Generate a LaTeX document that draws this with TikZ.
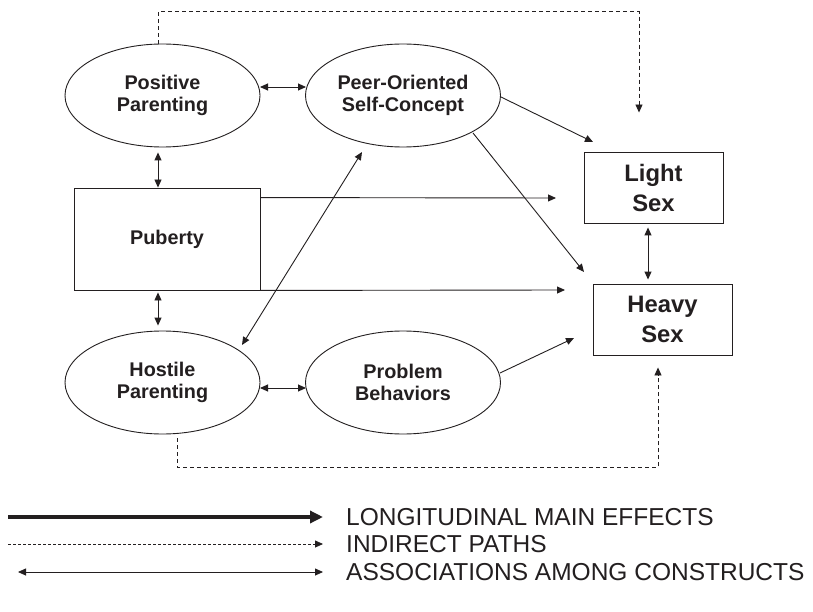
\documentclass[tikz,border=0pt]{standalone}
\usepackage{fontspec}
\setmainfont{Liberation Sans}
\usetikzlibrary{shapes.geometric,arrows.meta,calc}
\definecolor{ink}{HTML}{231F20}
\begin{document}
\begin{tikzpicture}[x=1pt,y=-1pt,
  every node/.style={text=ink},
  ell/.style={draw=ink, line width=0.9pt, ellipse, minimum width=195pt, minimum height=103pt, inner sep=0pt, align=center, font=\fontsize{19.8}{21.6}\selectfont\bfseries},
  pbox/.style={draw=ink, line width=0.9pt, rectangle, minimum width=186pt, minimum height=102pt, inner sep=0pt, align=center, font=\fontsize{19.8}{21.6}\selectfont\bfseries},
  sbox/.style={draw=ink, line width=0.9pt, rectangle, minimum width=139pt, minimum height=71pt, inner sep=0pt, align=center, font=\fontsize{23.8}{30}\selectfont\bfseries},
  tip/.style={-{Triangle[length=8pt,width=7pt]}},
  effect/.style={draw=ink, line width=0.9pt, tip},
  assoc/.style={draw=ink, line width=0.9pt, {Triangle[length=8pt,width=7pt]}-{Triangle[length=8pt,width=7pt]}},
  ind/.style={draw=ink, line width=0.9pt, dash pattern=on 4pt off 3pt, tip},
  legtext/.style={anchor=west, inner sep=0pt, font=\fontsize{24.5}{26}\selectfont}
]
\useasboundingbox (0,0) rectangle (813,612);
\fill[white] (0,0) rectangle (813,612);

% nodes
\node[ell] (pos) at (162.5,95.5) {Positive\\Parenting};
\node[ell] (peer) at (403,95.5) {Peer-Oriented\\Self-Concept};
\node[pbox] (pub) at (167,239) {Puberty};
\node[ell] (hos) at (162.5,382.5) {Hostile\\Parenting};
\node[ell] (prob) at (403,382.5) {Problem\\Behaviors};
\node[sbox] (light) at (653.5,187.5) {Light\\Sex};
\node[sbox] (heavy) at (662.5,319.5) {Heavy\\Sex};

% associations
\draw[assoc] ($(pos.center)+(97.5,-8.5)$) -- ($(peer.center)+(-97,-8.5)$);
\draw[assoc] ($(pos.south)+(-4.5,5)$) -- ($(pub.north)+(-9,0)$);
\draw[assoc] ($(pub.south)+(-9,2)$) -- ($(hos.north)+(-4.5,-5)$);
\draw[assoc] ($(hos.center)+(97.5,5.5)$) -- ($(prob.center)+(-97,5.5)$);
\draw[assoc] ($(hos.center)+(79.5,-37.5)$) -- ($(peer.center)+(-41,56.5)$);
\draw[assoc] ($(light.south)+(-5.5,4)$) -- ($(heavy.north)+(-14.5,-4)$);

% effects
\draw[effect] ($(peer.center)+(98,1.5)$) -- ($(light.center)+(-60.5,-45.5)$);
\draw[effect] ($(peer.center)+(70,37.5)$) -- ($(heavy.center)+(-78.5,-47.5)$);
\draw[effect] ($(pub.north east)+(0,10)$) -- ($(light.center)+(-97.5,10.5)$);
\draw[effect] (pub.south east) -- ($(heavy.center)+(-97.5,-29.5)$);
\draw[effect] ($(prob.center)+(97,-9.5)$) -- ($(heavy.center)+(-88.5,18.5)$);

% indirect paths
\draw[ind] ($(pos.north)+(-4.5,0)$) -- ++(0,-32) -| ($(light.north)+(-14.5,-39)$);
\draw[ind] ($(hos.south)+(14.5,4)$) -- ++(0,29) -| ($(heavy.south)+(-4.5,12)$);

% legend
\node[legtext] (t1) at (346,517) {LONGITUDINAL MAIN EFFECTS};
\node[legtext] (t2) at (346,544) {INDIRECT PATHS};
\node[legtext] (t3) at (346,572) {ASSOCIATIONS AMONG CONSTRUCTS};
\coordinate (s1) at (8,517);
\coordinate (s2) at (8,544);
\coordinate (s3) at (18,572);
\draw[draw=ink, line width=4pt, -{Triangle[length=13pt,width=12pt]}, shorten >=23pt] (s1) -- (t1.west);
\draw[draw=ink, line width=0.8pt, dash pattern=on 3pt off 2pt, tip, shorten >=23pt] (s2) -- (t2.west);
\draw[assoc, line width=0.8pt, shorten >=23pt] (s3) -- (t3.west);
\end{tikzpicture}
\end{document}
